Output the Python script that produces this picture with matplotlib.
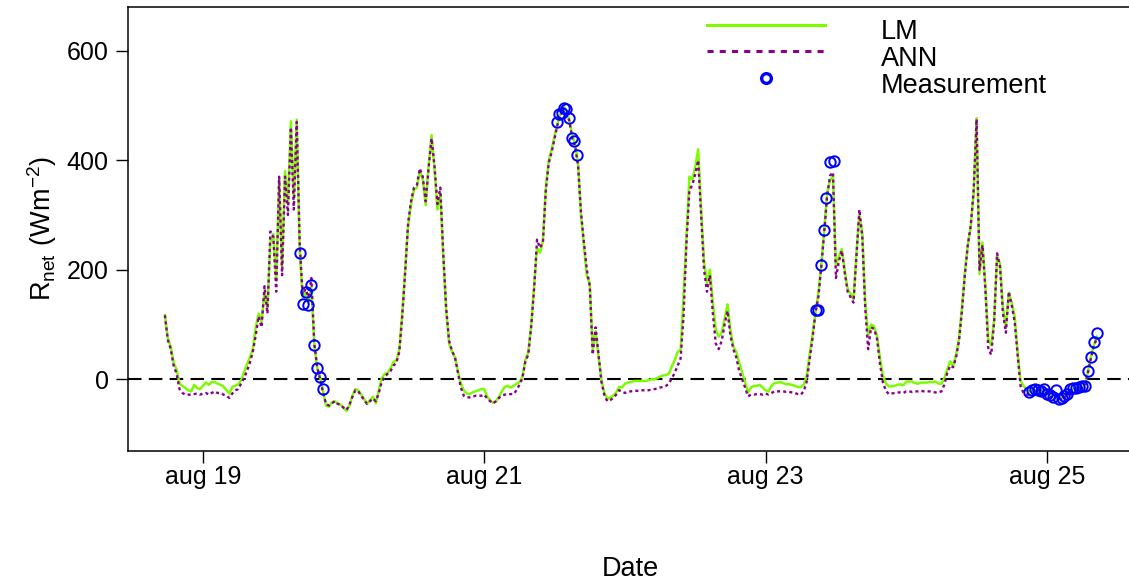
import numpy as np
import matplotlib
matplotlib.use("Agg")
import matplotlib.pyplot as plt
from matplotlib.lines import Line2D

plt.rcParams["font.family"] = ["Liberation Sans", "DejaVu Sans"]

# Time axis: hours after 19 Aug 00:00, half-hourly model output
t_start, t_step = -6.5, 0.5

# Linear model (LM) net radiation, W m-2, one row per day
lm = [
    117, 75, 60, 30, 18, -8, -12, -16, -20, -22, -10, -16, -18,
    -12, -6, -10, -5, -5, -8, -10, -13, -20, -26, -14, -12, -9, -2, 12, 27,
    40, 55, 95, 120, 105, 160, 130, 250, 265, 180, 364, 206, 380, 320, 471, 330,
    474, 235, 150, 158, 140, 168, 62, 20, 3, -22, -48, -50, -42, -40, -44, -46,
    -52, -58, -48, -30, -18, -20, -28, -36, -45, -38, -32, -44, -20, 2, 10, 12,
    20, 32, 34, 55, 120, 200, 280, 320, 346, 350, 380, 365, 318, 390, 446, 385,
    310, 340, 225, 125, 65, 50, 40, 15, -8, -20, -26, -27, -24, -22, -20, -18,
    -18, -32, -38, -43, -40, -32, -22, -14, -12, -15, -12, -8, -5, 4, 35, 49,
    100, 170, 240, 231, 252, 350, 400, 420, 445, 468, 485, 500, 490, 475, 445, 430,
    395, 300, 245, 188, 175, 55, 88, 40, -2, -25, -36, -33, -30, -24, -14, -15,
    -8, -6, -5, -3, -3, -3, -3, -3, -2, 0, 0, 2, 5, 7, 8, 10,
    24, 35, 50, 54, 152, 260, 370, 365, 388, 420, 310, 215, 175, 200, 140, 90,
    78, 85, 110, 137, 90, 60, 50, 30, 12, -5, -24, -15, -12, -12, -10, -15,
    -20, -22, -12, -7, -6, -5, -7, -9, -9, -10, -12, -14, -14, -10, 6, 45,
    80, 121, 158, 209, 272, 340, 364, 370, 206, 224, 238, 200, 165, 156, 146, 230,
    300, 267, 140, 80, 100, 97, 80, 40, 8, -7, -13, -13, -12, -10, -9, -11,
    -4, -4, -4, -7, -8, -6, -6, -6, -5, -5, -4, -8, -8, 2, 18, 33,
    24, 45, 75, 130, 195, 245, 280, 340, 477, 192, 250, 170, 73, 62, 110, 225,
    212, 130, 95, 158, 140, 115, 50, -2, -12, -18, -22, -20, -20, -22, -22, -20,
    -25, -28, -30, -25, -32, -33, -30, -26, -20, -18, -16, -15, -14, -10, 15, 40,
    62, 78,
]

# Neural network (ANN) net radiation, W m-2
ann = [
    117, 72, 55, 25, 10, -18, -25, -28, -28, -28, -27, -26, -28,
    -26, -25, -28, -25, -22, -25, -25, -28, -30, -34, -26, -20, -18, -8, 2, 15,
    30, 50, 80, 115, 95, 170, 120, 270, 260, 160, 370, 190, 370, 300, 460, 310,
    470, 250, 155, 165, 150, 185, 65, 22, 0, -25, -45, -48, -44, -40, -45, -47,
    -52, -56, -46, -32, -20, -22, -30, -38, -45, -40, -35, -40, -25, -5, 5, 10,
    15, 25, 30, 50, 115, 195, 285, 325, 350, 355, 385, 370, 325, 385, 440, 390,
    320, 350, 230, 130, 70, 52, 40, 12, -15, -30, -33, -33, -32, -30, -30, -30,
    -28, -35, -40, -44, -40, -34, -30, -28, -27, -27, -27, -20, -10, 2, 32, 45,
    95, 165, 255, 240, 250, 345, 395, 415, 440, 465, 480, 495, 488, 472, 440, 425,
    390, 305, 250, 200, 170, 45, 95, 45, -5, -30, -40, -38, -34, -28, -20, -22,
    -25, -23, -22, -21, -21, -21, -20, -20, -20, -19, -18, -17, -15, -14, -12, -8,
    2, 12, 25, 38, 115, 250, 345, 355, 375, 400, 300, 200, 160, 190, 120, 65,
    55, 70, 100, 125, 80, 55, 40, 15, 0, -15, -31, -28, -28, -27, -27, -28,
    -26, -28, -25, -22, -22, -22, -22, -23, -23, -24, -25, -27, -28, -22, -5, 35,
    75, 120, 150, 205, 268, 335, 372, 378, 185, 215, 235, 195, 160, 150, 140, 225,
    310, 260, 130, 55, 95, 92, 75, 30, -5, -20, -27, -26, -25, -24, -24, -25,
    -22, -22, -23, -22, -22, -21, -22, -22, -22, -23, -24, -24, -22, -10, 12, 25,
    22, 40, 70, 125, 190, 245, 280, 345, 475, 200, 245, 165, 55, 45, 105, 230,
    205, 120, 85, 160, 135, 105, 45, -12, -25, -28, -28, -27, -27, -28, -28, -26,
    -30, -32, -34, -30, -36, -36, -33, -29, -24, -22, -20, -18, -17, -12, 12, 38,
    60, 75,
]

# Field measurements: hours after 19 Aug 00:00 and net radiation, W m-2
meas_hours = [
    16.5, 17.0, 17.5, 18.0, 18.5, 19.0, 19.5, 20.0, 20.5,
    60.35, 60.75, 61.25, 61.6, 61.9, 62.45, 63.0, 63.35, 63.85,
    104.6, 104.9, 105.5, 105.9, 106.3, 107.0, 107.7,
    141.0, 141.5, 142.0, 142.5, 143.0, 143.5, 144.0, 144.5, 145.0, 145.5,
    146.0, 146.5, 147.0, 147.5, 148.0, 148.5, 149.0, 149.5, 150.0, 150.5,
    151.0, 151.5, 152.0, 152.5,
]
meas_values = [
    230, 138, 160, 135, 172, 63, 20, 5, -17,
    469, 484, 487, 495, 493, 477, 441, 435, 410,
    126, 126, 209, 272, 331, 396, 398,
    -24, -20, -18, -20, -22, -18, -26, -28, -33, -20,
    -36, -34, -30, -26, -18, -16, -15, -14, -13, -13,
    15, 40, 68, 84,
]

tick_hours = [0, 48, 96, 144]
tick_labels = ["aug 19", "aug 21", "aug 23", "aug 25"]
y_ticks = [0, 200, 400, 600]

hours = t_start + t_step * np.arange(len(lm))

W, H = 1129, 583
fig = plt.figure(figsize=(W / 100, H / 100), dpi=100)
ax = fig.add_axes([127.6 / W, 1 - 450.5 / H, (1134 - 127.6) / W, (450.5 - 6.9) / H])

green = "#7CFC00"
purple = "#8B008B"
blue = "#0000FF"
fs_tick = 18
fs = 19.5
fs_px = fs * 100 / 72

ax.axhline(0, color="black", lw=1.5, ls=(0, (6.5, 3.5)), zorder=1)
ax.plot(hours, lm, color=green, lw=1.8, zorder=2)
ax.plot(hours, ann, color=purple, lw=1.7, ls=(0, (1.3, 1.3)), zorder=3)
ax.plot(meas_hours, meas_values, ls="none", marker="o", ms=7.5, mfc="none",
        mec=blue, mew=1.4, zorder=4)

span = hours[-1] - hours[0]
ax.set_xlim(hours[0] - 0.04 * span, hours[-1] + 0.04 * span)
ax.set_ylim(-130, 680)

ax.set_xticks(tick_hours)
ax.set_xticklabels(tick_labels)
ax.set_yticks(y_ticks)
ax.tick_params(axis="both", direction="out", length=8.5, width=1.0,
               labelsize=fs_tick, color="black")
ax.tick_params(axis="x", pad=2)
ax.tick_params(axis="y", pad=5)
for s in ax.spines.values():
    s.set_linewidth(1.1)

ax.set_xlabel("Date", fontsize=fs, labelpad=48)
ax.set_ylabel(r"$\mathregular{R_{net}\ (Wm^{-2})}$", fontsize=fs, labelpad=6)

handles = [
    Line2D([], [], color=green, lw=2.2),
    Line2D([], [], color=purple, lw=2.2, ls=(0, (2, 2))),
    Line2D([], [], ls="none", marker="o", ms=7, mfc="none", mec=blue, mew=2.4),
]
leg = ax.legend(handles, ["LM", "ANN", "Measurement"], loc="upper left",
                bbox_to_anchor=(707 / W, 1 - 14 / H), bbox_transform=fig.transFigure,
                frameon=False, fontsize=fs, handlelength=118 / fs_px,
                handletextpad=56 / fs_px, labelspacing=0.03, borderpad=0,
                borderaxespad=0)
# legend labels sit slightly below their keys
for txt in leg.get_texts():
    txt.set_y(-5)

fig.savefig("out.png", dpi=100)
